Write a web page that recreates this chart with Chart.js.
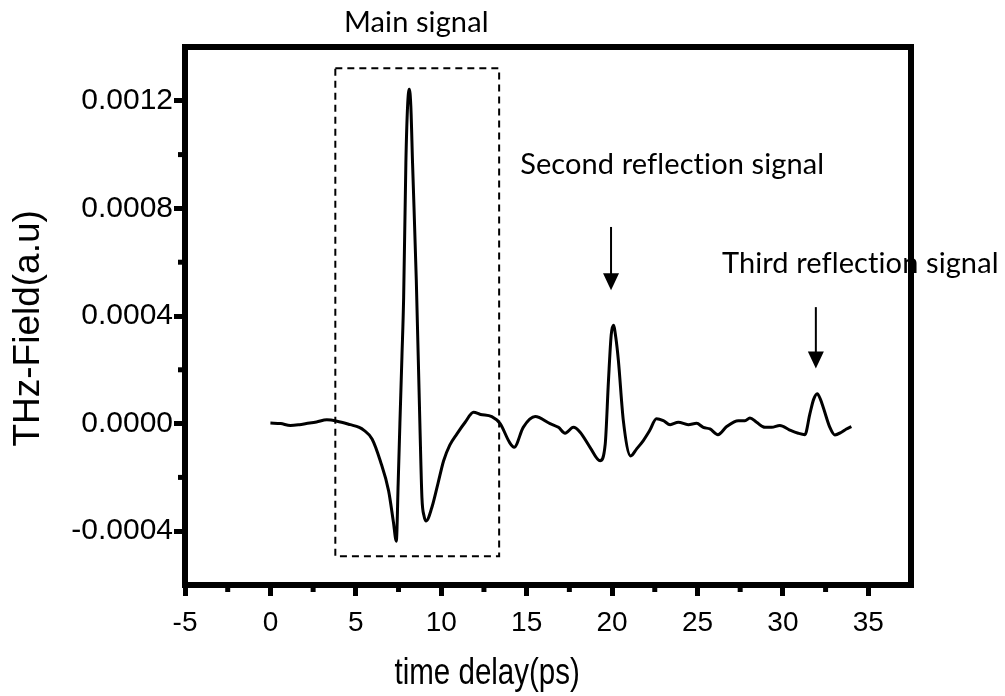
<!DOCTYPE html>
<html><head><meta charset="utf-8">
<script src="https://cdn.jsdelivr.net/npm/chart.js@4.4.1/dist/chart.umd.min.js"></script>
<style>html,body{margin:0;padding:0;background:#fff;}canvas{display:block;}</style>
</head><body>
<canvas id="c" width="1005" height="696"></canvas>
<script>
// ---- data ----
const timeDelay = [0,0.6,1.17,1.7,2.1,2.7,3.3,3.9,4.68,5.2,5.46,5.95,6.43,6.92,7.2,7.37,7.48,7.58,7.7,7.8,7.93,8.03,8.13,8.22,8.32,8.54,8.75,8.87,9.0,9.12,9.45,9.8,10.14,10.5,10.92,11.4,11.89,12.3,12.96,13.45,14.0,14.27,14.8,15.5,16.37,16.86,17.25,17.74,18.13,18.71,19.3,19.6,19.79,19.95,20.08,20.22,20.37,20.66,21.09,21.44,21.83,22.2,22.6,23.0,23.4,23.88,24.46,24.95,25.34,25.73,26.2,26.71,27.39,27.78,28.07,28.46,28.95,29.34,29.82,30.4,30.9,31.29,31.58,31.8,32.01,32.2,32.36,32.75,33.04,33.43,33.72,34.01];
const thzField = [2e-6,0,-7e-6,-4e-6,0,6e-6,14e-6,9e-6,-4e-6,-14e-6,-24e-6,-57e-6,-138e-6,-250e-6,-366e-6,-437e-6,-220e-6,0,250e-6,470e-6,970e-6,1180e-6,1243e-6,1180e-6,970e-6,534e-6,0,-275e-6,-345e-6,-362e-6,-312e-6,-225e-6,-138e-6,-80e-6,-38e-6,5e-6,42e-6,34e-6,26e-6,0,-70e-6,-88e-6,-14e-6,26e-6,0,-14e-6,-36e-6,-14e-6,-32e-6,-88e-6,-138e-6,-76e-6,160e-6,330e-6,366e-6,320e-6,235e-6,11e-6,-120e-6,-94e-6,-63e-6,-26e-6,18e-6,11e-6,-4e-6,5e-6,-4e-6,1e-6,-14e-6,-20e-6,-41e-6,-11e-6,11e-6,11e-6,21e-6,5e-6,-14e-6,-14e-6,-7e-6,-24e-6,-36e-6,-41e-6,36e-6,90e-6,111e-6,90e-6,61e-6,-14e-6,-42e-6,-32e-6,-20e-6,-11e-6];
const xTickValues = [-5,0,5,10,15,20,25,30,35];
const xMinorTickValues = [-2.5,2.5,7.5,12.5,17.5,22.5,27.5,32.5];
const yTickValues = [-0.0004,0,0.0004,0.0008,0.0012];
const yMinorTickValues = [-0.0002,0.0002,0.0006,0.0010];
const xTitleText = 'time delay(ps)';
const yTitleText = 'THz-Field(a.u)';
const labelMain = 'Main signal';
const labelSecond = 'Second reflection signal';
const labelThird = 'Third reflection signal';

const points = timeDelay.map((t, i) => ({x: t, y: thzField[i]}));

const overlay = {
  id: 'overlay',
  afterDatasetsDraw(chart) {
    const {ctx, scales: {x, y}} = chart;
    const X = v => x.getPixelForValue(v), Y = v => y.getPixelForValue(v);
    ctx.save();
    ctx.strokeStyle = '#000'; ctx.fillStyle = '#000';
    // dashed box around main signal
    ctx.lineWidth = 2; ctx.setLineDash([7, 5]);
    const bx0 = X(3.8), bx1 = X(13.39), by0 = Y(0.001321), by1 = Y(-0.000493);
    ctx.strokeRect(bx0, by0, bx1 - bx0, by1 - by0);
    ctx.setLineDash([]);
    // arrows
    const arrow = (t, vTop, vTip) => {
      const ax = X(t), ay0 = Y(vTop), ay1 = Y(vTip);
      ctx.lineWidth = 2;
      ctx.beginPath(); ctx.moveTo(ax, ay0); ctx.lineTo(ax, ay1 - 14); ctx.stroke();
      ctx.beginPath(); ctx.moveTo(ax - 8, ay1 - 17); ctx.lineTo(ax + 8, ay1 - 17); ctx.lineTo(ax, ay1); ctx.closePath(); ctx.fill();
    };
    arrow(19.94, 0.000731, 0.000496);
    arrow(31.93, 0.000433, 0.000205);
    // annotation texts
    ctx.font = '29px Lato, "Open Sans", sans-serif';
    if ('letterSpacing' in ctx) ctx.letterSpacing = '0.1px';
    ctx.textBaseline = 'alphabetic';
    ctx.textAlign = 'center';
    ctx.fillText(labelMain, X(8.54), Y(0.001455));
    ctx.textAlign = 'left';
    ctx.fillText(labelSecond, X(14.62), Y(0.000929));
    ctx.fillText(labelThird, X(26.43), Y(0.00056));
    ctx.restore();
  },
  afterDraw(chart) {
    const {ctx, chartArea: a, scales: {x, y}} = chart;
    ctx.save();
    ctx.strokeStyle = '#000'; ctx.fillStyle = '#000';
    // frame
    ctx.lineWidth = 6;
    ctx.strokeRect(a.left, a.top, a.right - a.left, a.bottom - a.top);
    // minor ticks
    ctx.lineWidth = 5;
    xMinorTickValues.forEach(v => {
      const px = x.getPixelForValue(v);
      ctx.beginPath(); ctx.moveTo(px, a.bottom); ctx.lineTo(px, a.bottom + 7); ctx.stroke();
    });
    yMinorTickValues.forEach(v => {
      const py = y.getPixelForValue(v);
      ctx.beginPath(); ctx.moveTo(a.left, py); ctx.lineTo(a.left - 7, py); ctx.stroke();
    });
    // x axis title (condensed like the reference)
    ctx.save();
    ctx.font = '36px "Liberation Sans", Arial, sans-serif';
    ctx.textAlign = 'center';
    ctx.textBaseline = 'alphabetic';
    ctx.translate(x.getPixelForValue(12.69), a.bottom + 99);
    ctx.scale(0.82, 1);
    ctx.fillText(xTitleText, 0, 0);
    ctx.restore();
    // y axis title
    ctx.font = '37px "Liberation Sans", Arial, sans-serif';
    ctx.textAlign = 'center';
    ctx.textBaseline = 'middle';
    ctx.translate(29, y.getPixelForValue(0.000354));
    ctx.rotate(-Math.PI / 2);
    ctx.fillText(yTitleText, 0, 0);
    ctx.restore();
  }
};

new Chart(document.getElementById('c'), {
  type: 'scatter',
  data: {
    datasets: [{
      data: points,
      showLine: true,
      borderColor: '#000',
      borderWidth: 3,
      pointRadius: 0,
      cubicInterpolationMode: 'monotone',
      fill: false
    }]
  },
  options: {
    responsive: false,
    devicePixelRatio: 1,
    animation: false,
    layout: {padding: {top: 47, right: 94, bottom: 0, left: 0}},
    plugins: {legend: {display: false}, tooltip: {enabled: false}},
    scales: {
      x: {
        type: 'linear', position: 'bottom', min: -5, max: 37.5,
        afterFit: s => { s.height = 111; },
        afterBuildTicks: s => { s.ticks = xTickValues.map(v => ({value: v})); },
        border: {display: false},
        grid: {display: true, drawOnChartArea: false, drawTicks: true, tickLength: 11, tickWidth: 5, tickColor: '#000', color: '#000'},
        ticks: {
          autoSkip: false, maxRotation: 0, padding: 10, color: '#000',
          font: {family: '"Liberation Sans", Arial, sans-serif', size: 28},
          callback: v => String(v)
        }
      },
      y: {
        type: 'linear', position: 'left', min: -0.0006, max: 0.0014,
        afterFit: s => { s.width = 185; },
        afterBuildTicks: s => { s.ticks = yTickValues.map(v => ({value: v})); },
        border: {display: false},
        grid: {display: true, drawOnChartArea: false, drawTicks: true, tickLength: 11, tickWidth: 5, tickColor: '#000', color: '#000'},
        ticks: {
          autoSkip: false, padding: 1, color: '#000',
          font: {family: '"Liberation Sans", Arial, sans-serif', size: 30},
          callback: v => (Math.abs(v) < 1e-12 ? 0 : v).toFixed(4)
        }
      }
    }
  },
  plugins: [overlay]
});
</script>
</body></html>
